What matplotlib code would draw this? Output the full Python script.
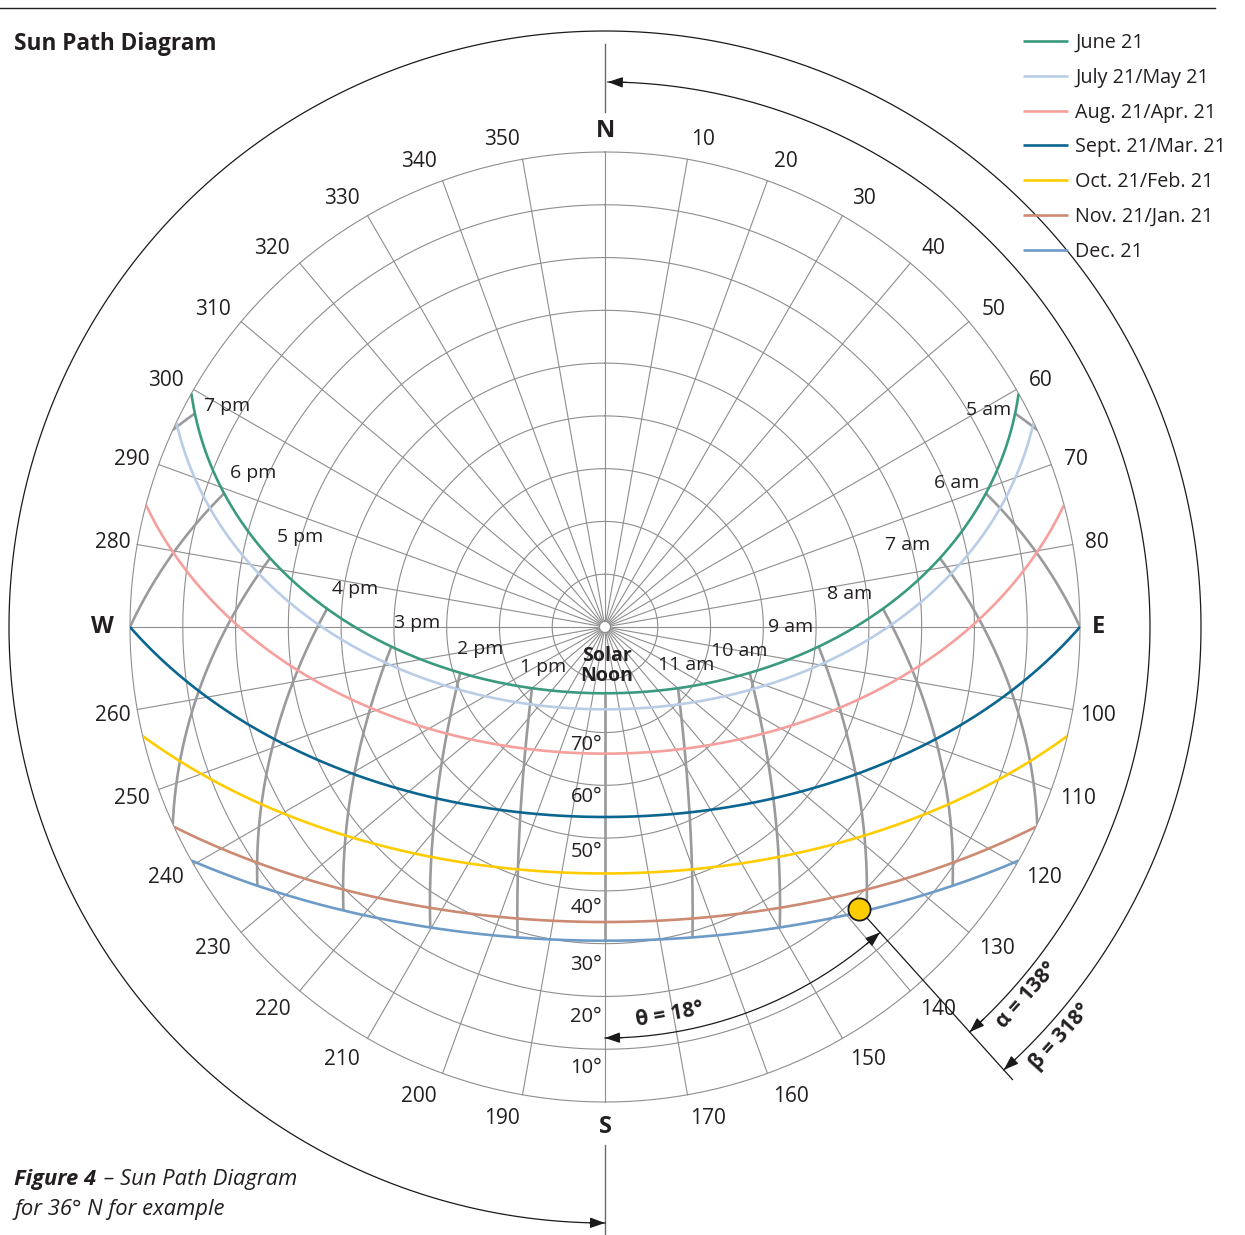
import numpy as np
import matplotlib
matplotlib.use("Agg")
import matplotlib.pyplot as plt

plt.rcParams['font.family'] = ['Open Sans', 'DejaVu Sans']

# ---------------- data ----------------
LATITUDE = 36.0
DATE_LABELS = ["June 21", "July 21/May 21", "Aug. 21/Apr. 21", "Sept. 21/Mar. 21",
               "Oct. 21/Feb. 21", "Nov. 21/Jan. 21", "Dec. 21"]
DECLINATIONS = [23.44, 20.4, 12.0, 0.0, -10.7, -19.9, -23.44]
DATE_COLORS = ["#3a9a80", "#b9cde6", "#f5a09c", "#0a6690", "#ffcc00", "#cc8a72", "#6d9bc8"]
HOURS = [5, 6, 7, 8, 9, 10, 11, 12, 13, 14, 15, 16, 17, 18, 19]
HOUR_LABELS = ["5 am", "6 am", "7 am", "8 am", "9 am", "10 am", "11 am", "",
               "1 pm", "2 pm", "3 pm", "4 pm", "5 pm", "6 pm", "7 pm"]
AZIMUTH_TICKS = [a for a in range(10, 360, 10) if a % 90]
COMPASS_LABELS = ["N", "E", "S", "W"]
COMPASS_AZIMUTHS = [0, 90, 180, 270]
ALTITUDE_TICKS = [70, 60, 50, 40, 30, 20, 10]
GRID_ALTITUDES = [80, 70, 60, 50, 40, 30, 20, 10, 0]
SUN_AZIMUTH = 138.0
SUN_ALTITUDE = 18.0
BETA = 318.0

# ---------------- layout (pixels) ----------------
HOUR_LABEL_OFFSETS = [(-27, 3), (-29, 10), (-32, 13), (-33, 15), (-28, 20), (-10, 22), (8, 23), (0, 0),
                      (11, 21), (20, 24), (26, 24), (28, 20), (30, 21), (29, 20), (32, 7)]
COMPASS_OFFSETS = [(0, -1), (-4, 0), (0, -3), (-6, 0)]
ALT_LABEL_DROP = [12, 12, 14, 17, 21, 21, 19]
PX = 475.0 / 90.0          # pixels per degree of zenith distance
TEXT = "#231f20"
GRID = "#8e8e8e"


def sun_position(lat, dec, hour):
    phi, d = np.radians(lat), np.radians(dec)
    h = np.radians(15.0 * (np.asarray(hour, float) - 12.0))
    sin_alt = np.sin(phi) * np.sin(d) + np.cos(phi) * np.cos(d) * np.cos(h)
    alt = np.degrees(np.arcsin(np.clip(sin_alt, -1, 1)))
    az = np.degrees(np.arctan2(-np.cos(d) * np.sin(h),
                               np.sin(d) * np.cos(phi) - np.cos(d) * np.cos(h) * np.sin(phi))) % 360
    return az, alt


fig = plt.figure(figsize=(12.45, 12.35), dpi=100)
ax = fig.add_axes([130 / 1245, 133 / 1235, 950 / 1245, 950 / 1235], projection='polar')
ax.set_theta_zero_location('N')
ax.set_theta_direction(-1)
ax.set_ylim(0, 90)
ax.set_axis_off()

# grid: altitude circles and azimuth rays
full = np.radians(np.linspace(0, 360, 721))
for a in GRID_ALTITUDES:
    ax.plot(full, np.full_like(full, 90 - a), color=GRID, lw=0.8, zorder=1, clip_on=False)
for az in range(0, 360, 10):
    ax.plot([np.radians(az)] * 2, [1.1, 90], color=GRID, lw=0.8, zorder=1, clip_on=False)
ax.plot(full, np.full_like(full, 1.1), color=GRID, lw=1.2, zorder=1.5)
ax.fill(full, np.full_like(full, 1.1), color='white', zorder=1.4)

# N / S extension lines
ax.plot([0, 0], [97.6, 110.5], color='#6a6a6a', lw=1.0, clip_on=False)
ax.plot([np.pi, np.pi], [98.1, 116.0], color='#6a6a6a', lw=1.0, clip_on=False)

phi = np.radians(LATITUDE)
# hour lines
for hr in HOURS:
    h = np.radians(15.0 * (hr - 12))
    d0 = np.degrees(np.arctan(-np.cos(h) / np.tan(phi)))
    dmin = max(min(DECLINATIONS), d0)
    decs = np.linspace(max(DECLINATIONS), dmin, 300)
    az, alt = sun_position(LATITUDE, decs, np.full_like(decs, hr))
    ax.plot(np.radians(az), 90 - np.clip(alt, 0, None), color='#9a9a9c', lw=1.9, zorder=2,
            solid_capstyle='butt')

# date curves
date_lines = []
for dec, col, lab in zip(DECLINATIONS, DATE_COLORS, DATE_LABELS):
    half = np.degrees(np.arccos(-np.tan(phi) * np.tan(np.radians(dec)))) / 15.0
    hrs = np.linspace(12 - half, 12 + half, 500)
    az, alt = sun_position(LATITUDE, dec, hrs)
    ln, = ax.plot(np.radians(az), 90 - np.clip(alt, 0, None), color=col, lw=1.9, zorder=3,
                  label=lab, solid_capstyle='butt')
    date_lines.append(ln)

# hour labels near the June 21 curve
jaz, jalt = sun_position(LATITUDE, DECLINATIONS[0], np.array(HOURS, float))
for lab, a, al, off in zip(HOUR_LABELS, jaz, jalt, HOUR_LABEL_OFFSETS):
    if lab:
        ax.annotate(lab, xy=(np.radians(a), 90 - al), xytext=off, textcoords='offset pixels',
                    ha='center', va='center', fontsize=14, color=TEXT, zorder=5)
ax.annotate("Solar\nNoon", xy=(0, 0), xytext=(2, -39), textcoords='offset pixels', ha='center',
            va='center', fontsize=14, fontweight='bold', color=TEXT, linespacing=1.05, zorder=5)

# azimuth labels
R_LAB = 497 / PX
for az in AZIMUTH_TICKS:
    lab = str(az)
    t = np.radians(az)
    w = 11.5 * len(lab)
    dx = np.sign(np.sin(t)) * abs(np.cos(t)) * w / 2
    ax.annotate(lab, xy=(t, R_LAB), xytext=(dx, -2), textcoords='offset pixels', ha='center',
                va='center', fontsize=15, color=TEXT, annotation_clip=False)
for lab, az, off in zip(COMPASS_LABELS, COMPASS_AZIMUTHS, COMPASS_OFFSETS):
    ax.annotate(lab, xy=(np.radians(az), R_LAB), xytext=off, textcoords='offset pixels',
                ha='center', va='center', fontsize=17, fontweight='bold', color=TEXT,
                annotation_clip=False)

# altitude labels along the south axis
for a, drop in zip(ALTITUDE_TICKS, ALT_LABEL_DROP):
    ax.annotate(f"{a}°", xy=(np.pi, 90 - a), xytext=(-3, -drop), textcoords='offset pixels',
                ha='right', va='center', fontsize=14.5, color=TEXT, zorder=5)


# dimension arcs
def arc(r, az0, az1, step_deg):
    th = np.radians(np.linspace(az0, az1, 400))
    ax.plot(th, np.full_like(th, r), color='#1a1a1a', lw=0.9, clip_on=False, zorder=4)
    sgn = 1 if az1 > az0 else -1
    for tip, near in ((az0, az0 + sgn * step_deg), (az1, az1 - sgn * step_deg)):
        ax.annotate('', xy=(np.radians(tip), r), xytext=(np.radians(near), r),
                    arrowprops=dict(arrowstyle='-|>,head_length=0.9,head_width=0.32', color='#1a1a1a',
                                    lw=0.9, shrinkA=0, shrinkB=0, clip_on=False),
                    annotation_clip=False, zorder=4)


sun_t = np.radians(SUN_AZIMUTH)
ax.plot([sun_t, sun_t], [90 - SUN_ALTITUDE, 609 / PX], color='#1a1a1a', lw=0.9, clip_on=False, zorder=4)
arc(545 / PX, 0.3, SUN_AZIMUTH, 2.0)
arc(411 / PX, 180.0, SUN_AZIMUTH, 2.5)
arc(596 / PX, 180.0, 180.0 + BETA, 1.5)
ax.plot([sun_t], [90 - SUN_ALTITUDE], 'o', ms=16, mfc='#ffcc00', mec='#1a1a1a', mew=1.3,
        zorder=7, clip_on=False)

ax.text(np.radians(131.1), 560 / PX, "α = 138°", rotation=48, ha='center', va='center',
        fontsize=15, fontweight='bold', color=TEXT, rotation_mode='anchor')
ax.text(np.radians(132.0), 612 / PX, "β = 318°", rotation=48, ha='center', va='center',
        fontsize=15, fontweight='bold', color=TEXT, rotation_mode='anchor')
ax.text(np.radians(170.5), 393 / PX, "θ = 18°", rotation=10, ha='center', va='center',
        fontsize=15, fontweight='bold', color=TEXT, rotation_mode='anchor')

# legend
fig.legend(handles=date_lines, labels=DATE_LABELS, loc='upper left',
           bbox_to_anchor=(1023 / 1245, 1 - 33 / 1235), frameon=False, fontsize=14.2,
           handlelength=2.3, handletextpad=0.36, labelspacing=0.75, borderpad=0,
           borderaxespad=0, labelcolor=TEXT)

# title, rule, caption
fig.add_artist(plt.Line2D([0, 1215 / 1245], [1 - 8 / 1235] * 2, color='#222', lw=1.0))
fig.text(14 / 1245, 1 - 44 / 1235, "Sun Path Diagram", fontsize=16.3, fontweight='bold',
         color=TEXT, ha='left', va='center')
t1 = fig.text(14 / 1245, 1 - 1179 / 1235, "Figure 4", fontsize=15.8, fontweight='bold',
              style='italic', color=TEXT, ha='left', va='center')
fig.canvas.draw()
bb = t1.get_window_extent(fig.canvas.get_renderer())
fig.text((bb.x1 + 2) / 1245, 1 - 1179 / 1235, " – Sun Path Diagram", fontsize=15.8, style='italic',
         color=TEXT, ha='left', va='center')
fig.text(14 / 1245, 1 - 1210 / 1235, "for 36° N for example", fontsize=15.8, style='italic',
         color=TEXT, ha='left', va='center')

fig.savefig("out.png", dpi=100)
